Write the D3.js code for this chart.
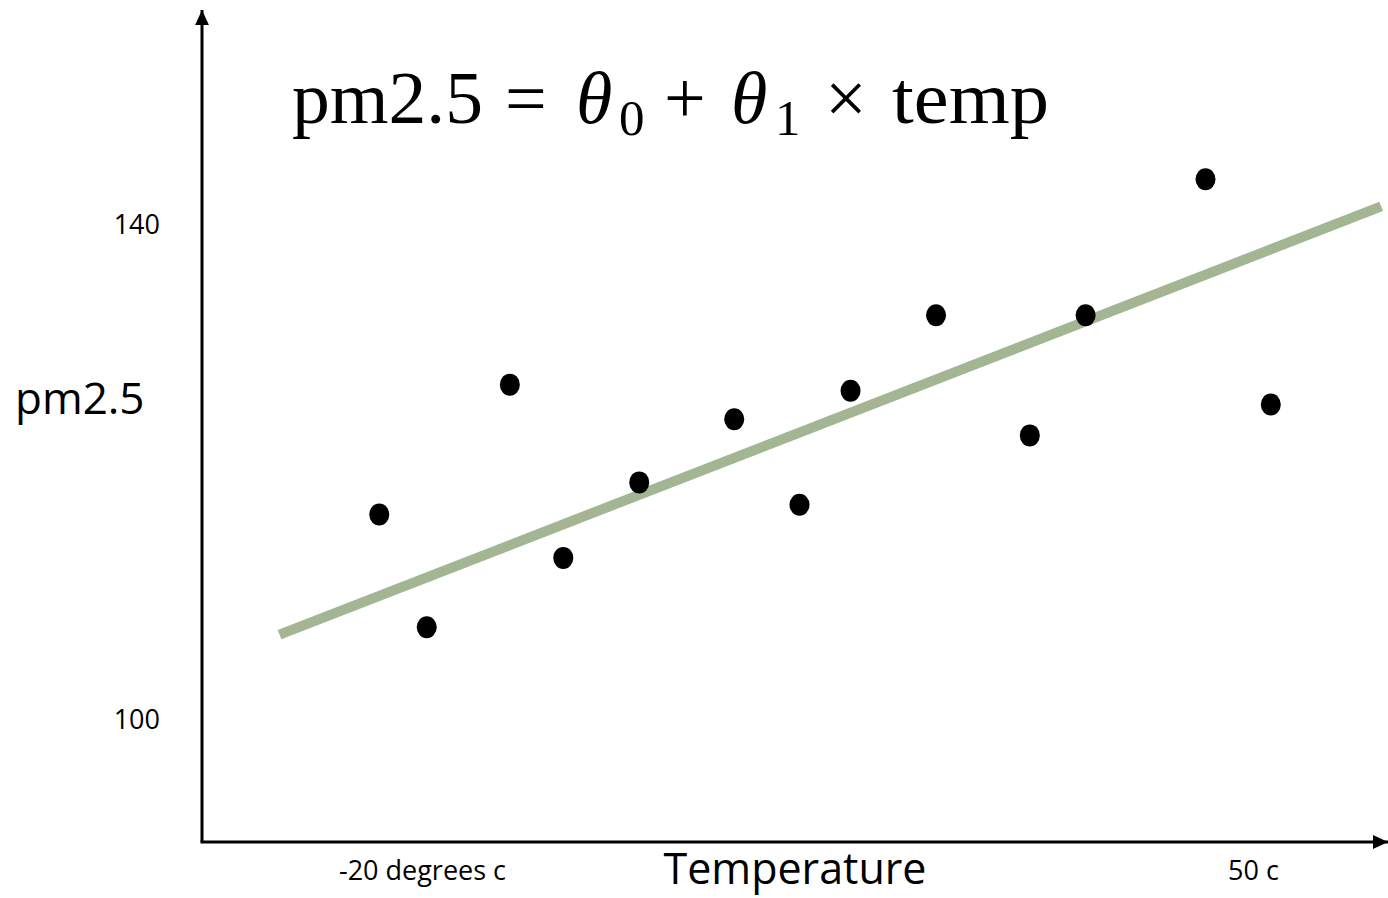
<!DOCTYPE html>
<html>
<head>
<meta charset="utf-8">
<script src="https://cdn.jsdelivr.net/npm/d3@7"></script>
<style>
  html, body { margin: 0; padding: 0; background: #fff; }
  svg { display: block; }
  .lbl { font-family: "Open Sans", "Noto Sans", sans-serif; fill: #000; }
  .eq { font-family: "Liberation Serif", "DejaVu Serif", serif; fill: #000; }
</style>
</head>
<body>
<div id="chart"></div>
<script>
// pm2.5 vs temperature scatter with a fitted line
const tempValues = [-23.6, -19.6, -12.6, -8.1, -1.7, 6.3, 11.8, 16.1, 23.3, 31.2, 35.9, 46.0, 51.5];
const pmValues   = [116.6, 107.5, 127.1, 113.1, 119.2, 124.3, 117.4, 126.6, 132.7, 123.0, 132.7, 143.7, 125.5];

const fitTemp = [-32.0, 60.8];
const fitPm   = [106.9, 141.5];

const xTickValues = [-20, 50];
const xTickLabels = ["-20 degrees c", "50 c"];
const yTickValues = [100, 140];

const W = 1388, H = 898;
const originX = 202, originY = 842; // where the two axes meet

const svg = d3.select("#chart").append("svg")
  .attr("width", W).attr("height", H);

const x = d3.scaleLinear().domain([-20, 50]).range([422, 1253]);
const y = d3.scaleLinear().domain([100, 140]).range([720, 225]);

// arrow heads
const defs = svg.append("defs");
defs.append("marker")
  .attr("id", "arrow")
  .attr("viewBox", "0 -5 10 10")
  .attr("refX", 10).attr("refY", 0)
  .attr("markerUnits", "userSpaceOnUse")
  .attr("markerWidth", 15).attr("markerHeight", 15)
  .attr("orient", "auto")
  .append("path")
  .attr("d", "M0,-4.6L10,0L0,4.6Z")
  .attr("fill", "#000");

// axes lines
svg.append("line")
  .attr("x1", originX).attr("y1", originY)
  .attr("x2", originX).attr("y2", 10)
  .attr("stroke", "#000").attr("stroke-width", 3)
  .attr("marker-end", "url(#arrow)");
svg.append("line")
  .attr("x1", originX - 1.5).attr("y1", originY)
  .attr("x2", W).attr("y2", originY)
  .attr("stroke", "#000").attr("stroke-width", 3)
  .attr("marker-end", "url(#arrow)");

// tick labels
const xAxis = svg.append("g")
  .attr("transform", `translate(0,${originY})`)
  .call(d3.axisBottom(x).tickValues(xTickValues)
    .tickFormat((d, i) => xTickLabels[i]).tickSize(0).tickPadding(19));
xAxis.select(".domain").remove();
xAxis.selectAll("text").attr("class", "lbl").style("font-size", "27px")
  .attr("font-family", null).attr("fill", "#000");

const yAxis = svg.append("g")
  .attr("transform", `translate(160,0)`)
  .call(d3.axisLeft(y).tickValues(yTickValues).tickSize(0).tickPadding(0));
yAxis.select(".domain").remove();
yAxis.selectAll("text").attr("class", "lbl").style("font-size", "27px")
  .attr("font-family", null).attr("fill", "#000");
svg.selectAll(".tick line").remove();

// axis titles
svg.append("text").attr("class", "lbl")
  .attr("x", 15).attr("y", 414)
  .style("font-size", "44px")
  .text("pm2.5");

svg.append("text").attr("class", "lbl")
  .attr("x", 795).attr("y", 884)
  .attr("text-anchor", "middle")
  .style("font-size", "43px")
  .text("Temperature");

// fitted line
const fit = fitTemp.map((t, i) => [t, fitPm[i]]);
svg.append("path")
  .datum(fit)
  .attr("fill", "none")
  .attr("stroke", "#a3b592")
  .attr("stroke-width", 10)
  .attr("d", d3.line().x(d => x(d[0])).y(d => y(d[1])));

// points
svg.append("g").selectAll("ellipse")
  .data(tempValues.map((t, i) => ({ t, pm: pmValues[i] })))
  .join("ellipse")
  .attr("cx", d => x(d.t))
  .attr("cy", d => y(d.pm))
  .attr("rx", 10).attr("ry", 11)
  .attr("fill", "#000");

// equation
const eq = svg.append("text").attr("class", "eq").style("font-size", "74px");
eq.append("tspan").attr("x", 292).attr("y", 123)
  .attr("textLength", 191).attr("lengthAdjust", "spacingAndGlyphs").text("pm2.5");
eq.append("tspan").attr("x", 505).attr("y", 123).text("=");
eq.append("tspan").attr("x", 576).attr("y", 123).style("font-style", "italic").text("θ");
eq.append("tspan").attr("x", 619).attr("y", 135).style("font-size", "51px").text("0");
eq.append("tspan").attr("x", 664).attr("y", 123).text("+");
eq.append("tspan").attr("x", 731).attr("y", 123).style("font-style", "italic").text("θ");
eq.append("tspan").attr("x", 775).attr("y", 135).style("font-size", "51px").text("1");
eq.append("tspan").attr("x", 825).attr("y", 123).text("×");
eq.append("tspan").attr("x", 892).attr("y", 123)
  .attr("textLength", 157).attr("lengthAdjust", "spacingAndGlyphs").text("temp");
</script>
</body>
</html>
